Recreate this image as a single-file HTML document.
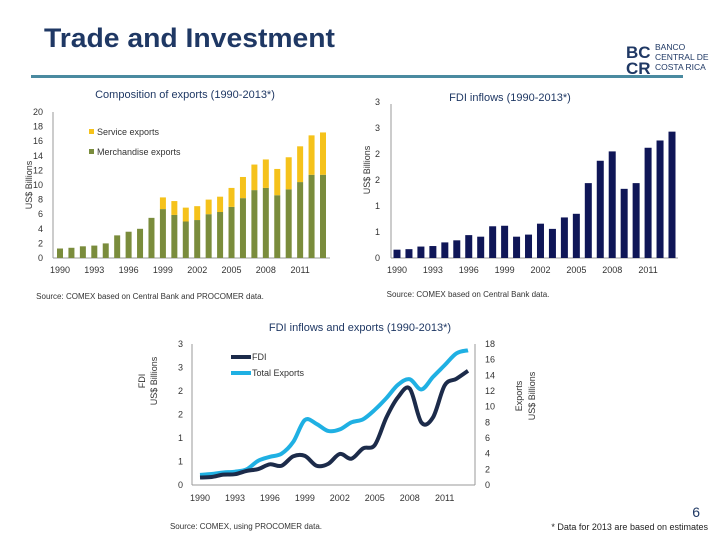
<!DOCTYPE html>
<html><head><meta charset="utf-8"><style>
body{margin:0;background:#fff;width:720px;height:540px;overflow:hidden;font-family:"Liberation Sans",sans-serif}
svg text{font-family:"Liberation Sans",sans-serif}
</style></head><body>
<svg id="s" width="720" height="540">
<text x="44" y="47" font-size="27" font-weight="bold" fill="#1f3864" textLength="291" lengthAdjust="spacingAndGlyphs">Trade and Investment</text>
<g>
<text x="626" y="58" font-size="17" fill="#1f3864" font-weight="bold">BC</text>
<text x="626" y="74" font-size="17" fill="#1f3864" font-weight="bold">CR</text>
<text x="655" y="50" font-size="8.5" fill="#1f3864">BANCO</text>
<text x="655" y="60" font-size="8.5" fill="#1f3864">CENTRAL DE</text>
<text x="655" y="70" font-size="8.5" fill="#1f3864">COSTA RICA</text>
</g>
<rect x="31" y="75" width="652" height="3" fill="#4a8aa0"/>
<text x="185" y="98" font-size="11" fill="#1f3864" text-anchor="middle">Composition of exports (1990-2013*)</text>
<text x="510" y="101" font-size="11" fill="#1f3864" text-anchor="middle">FDI inflows (1990-2013*)</text>
<text x="360" y="331" font-size="11" fill="#1f3864" text-anchor="middle">FDI inflows and exports (1990-2013*)</text>
<text x="150" y="299" font-size="8" fill="#333" text-anchor="middle">Source: COMEX based on Central Bank and PROCOMER data.</text>
<text x="468" y="297" font-size="8" fill="#333" text-anchor="middle">Source: COMEX based on Central Bank data.</text>
<text x="246" y="529" font-size="8" fill="#333" text-anchor="middle">Source: COMEX, using PROCOMER data.</text>
<text x="708" y="530" font-size="9" fill="#222" text-anchor="end">* Data for 2013 are based on estimates</text>
<text x="700" y="517" font-size="14" fill="#1f3864" text-anchor="end">6</text>
<g id="c1"></g><g id="c2"></g><g id="c3"></g>
</svg>
<script>
const years=[1990,1991,1992,1993,1994,1995,1996,1997,1998,1999,2000,2001,2002,2003,2004,2005,2006,2007,2008,2009,2010,2011,2012,2013];
const xTickLabels=["1990","1993","1996","1999","2002","2005","2008","2011"];
const merch=[1.3,1.4,1.6,1.7,2.0,3.1,3.6,4.0,5.5,6.7,5.9,5.0,5.2,6.0,6.3,7.0,8.2,9.3,9.6,8.6,9.4,10.4,11.4,11.4];
const totalExports=[1.3,1.4,1.6,1.7,2.0,3.1,3.6,4.0,5.5,8.3,7.8,6.9,7.1,8.0,8.4,9.6,11.1,12.8,13.5,12.2,13.8,15.3,16.8,17.2];
const fdi=[0.16,0.17,0.22,0.23,0.30,0.34,0.44,0.41,0.61,0.62,0.41,0.45,0.66,0.56,0.78,0.85,1.44,1.87,2.05,1.33,1.44,2.12,2.26,2.43];
const expTicks=[0,2,4,6,8,10,12,14,16,18,20];
const fdiTicks=[0,0.5,1,1.5,2,2.5,3];
const fdiTickLabels=["0","1","1","2","2","3","3"];
const comboExpTicks=[0,2,4,6,8,10,12,14,16,18];
const NS="http://www.w3.org/2000/svg";
function mk(p,t,a){const e=document.createElementNS(NS,t);for(const k in a)e.setAttribute(k,a[k]);p.appendChild(e);return e;}
function txt(p,x,y,s,o){const e=mk(p,'text',Object.assign({x:x,y:y,'font-size':9,fill:'#333'},o||{}));e.textContent=s;return e;}
const AX='#999';
// Chart 1
(function(){const g=document.getElementById('c1');
const x0=60,x1=323,y0=258,y1=112;
const X=i=>x0+(x1-x0)*i/(years.length-1), Y=v=>y0-(y0-y1)*v/20;
mk(g,'line',{x1:53,y1:y1,x2:53,y2:y0,stroke:AX});mk(g,'line',{x1:53,y1:y0,x2:330,y2:y0,stroke:AX});
expTicks.forEach(v=>{const t=txt(g,43,Y(v)+3,String(v),{'text-anchor':'end'});});
xTickLabels.forEach((l,k)=>{const t=txt(g,X(k*3),273,l,{'text-anchor':'middle'});});
years.forEach((yr,i)=>{
const b=mk(g,'rect',{x:X(i)-3,y:Y(merch[i]),width:6,height:Y(0)-Y(merch[i]),fill:'#7a8c3c'});

const s=mk(g,'rect',{x:X(i)-3,y:Y(totalExports[i]),width:6,height:Y(merch[i])-Y(totalExports[i]),fill:'#f5c21b'});
});
const l1=mk(g,'rect',{x:89,y:129,width:5,height:5,fill:'#f5c21b'});
txt(g,97,135,'Service exports');
const l2=mk(g,'rect',{x:89,y:149,width:5,height:5,fill:'#7a8c3c'});
txt(g,97,155,'Merchandise exports');
const yt=txt(g,0,0,'US$ Billions',{transform:'translate(32,185) rotate(-90)','text-anchor':'middle'});
})();
// Chart 2
(function(){const g=document.getElementById('c2');
const x0=397,x1=672,y0=258,y1=102;
const X=i=>x0+(x1-x0)*i/(years.length-1), Y=v=>y0-(y0-y1)*v/3;
mk(g,'line',{x1:391,y1:104,x2:391,y2:y0,stroke:AX});mk(g,'line',{x1:391,y1:y0,x2:678,y2:y0,stroke:AX});
fdiTicks.forEach((v,k)=>{const t=txt(g,380,Y(v)+3,fdiTickLabels[k],{'text-anchor':'end'});});
xTickLabels.forEach((l,k)=>{const t=txt(g,X(k*3),273,l,{'text-anchor':'middle'});});
years.forEach((yr,i)=>{const b=mk(g,'rect',{x:X(i)-3.5,y:Y(fdi[i]),width:7,height:Y(0)-Y(fdi[i]),fill:'#0f1657'});
});
const yt=txt(g,0,0,'US$ Billions',{transform:'translate(370,170) rotate(-90)','text-anchor':'middle'});
})();
// Chart 3
(function(){const g=document.getElementById('c3');
const x0=200,x1=468,y0=485,y1=344;
const X=i=>x0+(x1-x0)*i/(years.length-1), YL=v=>y0-(y0-y1)*v/3, YR=v=>y0-(y0-y1)*v/18;
mk(g,'line',{x1:192,y1:y1,x2:192,y2:y0,stroke:AX});mk(g,'line',{x1:475,y1:y1,x2:475,y2:y0,stroke:AX});mk(g,'line',{x1:192,y1:y0,x2:475,y2:y0,stroke:AX});
fdiTicks.forEach((v,k)=>{const t=txt(g,183,YL(v)+3,fdiTickLabels[k],{'text-anchor':'end'});});
comboExpTicks.forEach(v=>{const t=txt(g,485,YR(v)+3,String(v));});
xTickLabels.forEach((l,k)=>{const t=txt(g,X(k*3),501,l,{'text-anchor':'middle'});});
function path(vals,Yf){const p=vals.map((v,i)=>[X(i),Yf(v)]);let d='M'+p[0][0]+','+p[0][1];
for(let i=0;i<p.length-1;i++){const a=p[Math.max(0,i-1)],b=p[i],c=p[i+1],e=p[Math.min(p.length-1,i+2)];
d+=' C'+(b[0]+(c[0]-a[0])/6)+','+(b[1]+(c[1]-a[1])/6)+' '+(c[0]-(e[0]-b[0])/6)+','+(c[1]-(e[1]-b[1])/6)+' '+c[0]+','+c[1];}return d;}
const le=mk(g,'path',{d:path(totalExports,YR),fill:'none',stroke:'#1fb0e3','stroke-width':4});
const lf=mk(g,'path',{d:path(fdi,YL),fill:'none',stroke:'#1c2b4a','stroke-width':4});
const a=mk(g,'line',{x1:231,y1:357,x2:251,y2:357,stroke:'#1c2b4a','stroke-width':4});
txt(g,252,360,'FDI');
const b=mk(g,'line',{x1:231,y1:373,x2:251,y2:373,stroke:'#1fb0e3','stroke-width':4});
txt(g,252,376,'Total Exports');
const t1=txt(g,0,0,'FDI',{transform:'translate(145,381) rotate(-90)','text-anchor':'middle'});
txt(g,0,0,'US$ Billions',{transform:'translate(157,381) rotate(-90)','text-anchor':'middle'});
const t2=txt(g,0,0,'Exports',{transform:'translate(522,396) rotate(-90)','text-anchor':'middle'});
txt(g,0,0,'US$ Billions',{transform:'translate(535,396) rotate(-90)','text-anchor':'middle'});
})();
</script>
</body></html>
